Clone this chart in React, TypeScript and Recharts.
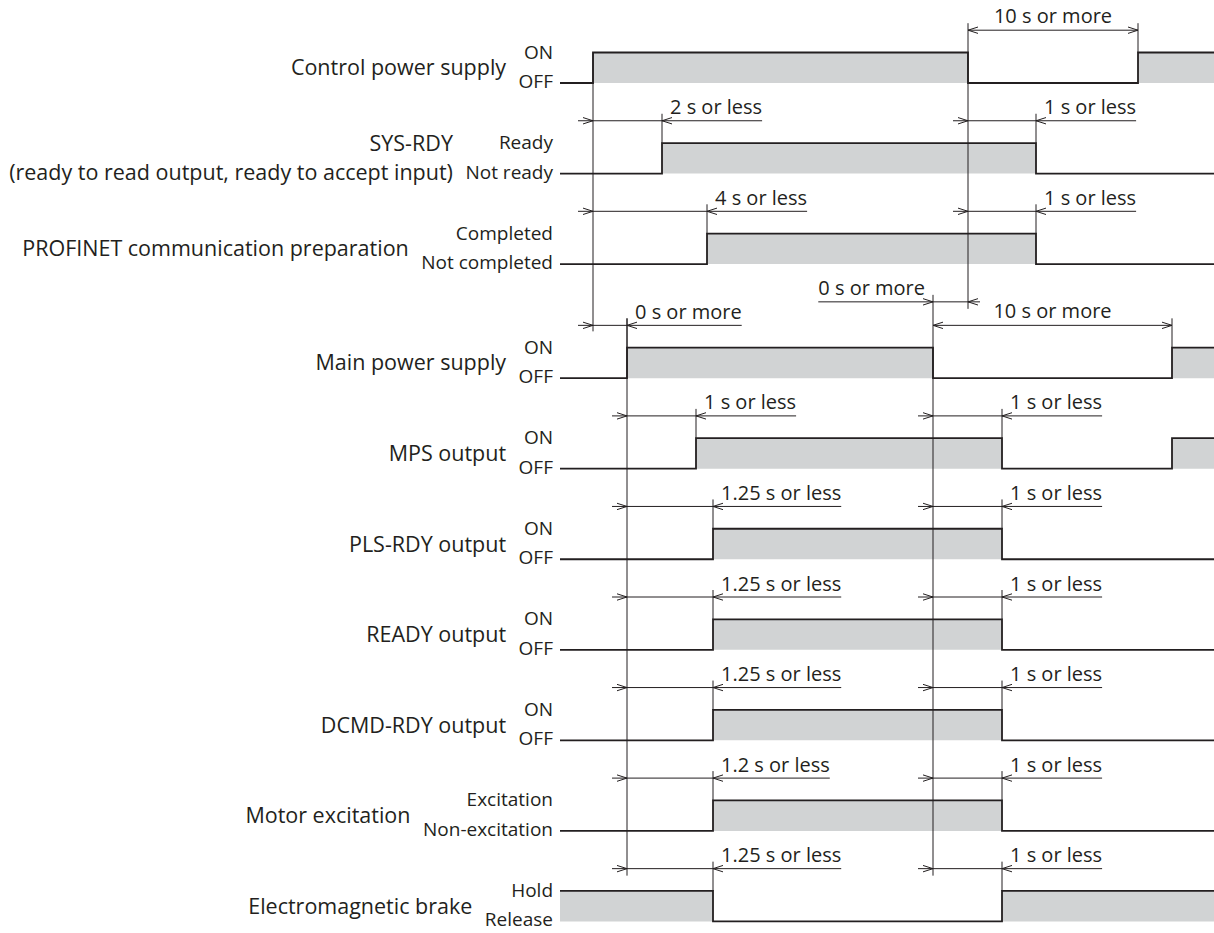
// Timing chart: power-on / power-off sequence of the driver signals.
// Grey blocks are the "high" state of each signal, arrows mark the delays.
import { Area, ComposedChart, Line, ReferenceLine, Scatter, XAxis, YAxis } from "recharts";

const W = 1214;
const H = 933;
const LEFT = 560; // signal lines start here (t = 0)
const END = W - LEFT;

const INK = "#231f20";
const GREY = "#d1d3d4";
const FONT = "'Open Sans', sans-serif";

const rowNames = [
  ["Control power supply"],
  ["SYS-RDY", "(ready to read output, ready to accept input)"],
  ["PROFINET communication preparation"],
  ["Main power supply"],
  ["MPS output"],
  ["PLS-RDY output"],
  ["READY output"],
  ["DCMD-RDY output"],
  ["Motor excitation"],
  ["Electromagnetic brake"],
];

const levelNames = [
  ["ON", "OFF"],
  ["Ready", "Not ready"],
  ["Completed", "Not completed"],
  ["ON", "OFF"],
  ["ON", "OFF"],
  ["ON", "OFF"],
  ["ON", "OFF"],
  ["ON", "OFF"],
  ["Excitation", "Non-excitation"],
  ["Hold", "Release"],
];

const startsOn = [false, false, false, false, false, false, false, false, false, true];

// times at which each signal toggles
const edges = [
  [33, 408, 578],
  [102, 476],
  [147, 476],
  [67, 373, 612],
  [136, 442, 612],
  [153, 442],
  [153, 442],
  [153, 442],
  [153, 442],
  [153, 442],
];

// delay from a reference edge to the signal's edge, text written after it
const delays = [
  { row: 1, from: 33, to: 102, text: "2 s or less" },
  { row: 1, from: 408, to: 476, text: "1 s or less" },
  { row: 2, from: 33, to: 147, text: "4 s or less" },
  { row: 2, from: 408, to: 476, text: "1 s or less" },
  { row: 3, from: 33, to: 67, text: "0 s or more" },
  { row: 4, from: 67, to: 136, text: "1 s or less" },
  { row: 4, from: 373, to: 442, text: "1 s or less" },
  { row: 5, from: 67, to: 153, text: "1.25 s or less" },
  { row: 5, from: 373, to: 442, text: "1 s or less" },
  { row: 6, from: 67, to: 153, text: "1.25 s or less" },
  { row: 6, from: 373, to: 442, text: "1 s or less" },
  { row: 7, from: 67, to: 153, text: "1.25 s or less" },
  { row: 7, from: 373, to: 442, text: "1 s or less" },
  { row: 8, from: 67, to: 153, text: "1.2 s or less" },
  { row: 8, from: 373, to: 442, text: "1 s or less" },
  { row: 9, from: 67, to: 153, text: "1.25 s or less" },
  { row: 9, from: 373, to: 442, text: "1 s or less" },
];

// off-time spans, text centred over them
const spans = [
  { row: 0, from: 408, to: 578, text: "10 s or more" },
  { row: 3, from: 373, to: 612, text: "10 s or more" },
];

// main power must go off before control power
const leads = [{ row: 3, from: 373, to: 408, text: "0 s or more" }];

// layout
const rowLow = (i: number) => 83 + i * 90.55 + (i >= 3 ? 23.5 : 0);
const rowHigh = (i: number) => rowLow(i) - 30.5;
const dimY = (i: number) => rowHigh(i) - 22.3;
const leadY = (i: number) => dimY(i) - 23.5;

let ctx: CanvasRenderingContext2D | null = null;
function textWidth(s: string, size: number) {
  if (!ctx) ctx = document.createElement("canvas").getContext("2d");
  ctx!.font = `${size}px "Open Sans"`;
  return ctx!.measureText(s).width;
}

const times = Array.from(new Set([0, END, ...edges.flat()])).sort((a, b) => a - b);
const wave = times.map(t => {
  const p: Record<string, any> = { t };
  edges.forEach((e, i) => {
    const on = (e.filter(x => x <= t).length % 2 === 1) !== startsOn[i];
    p[`w${i}`] = on ? rowHigh(i) : rowLow(i);
    p[`f${i}`] = [rowLow(i), on ? rowHigh(i) : rowLow(i)];
  });
  return p;
});

type Seg = [number, number, number, number];
type Lbl = { t: number; y: number; text: string; anchor: string; size: number };

function buildMarks() {
  const segs: Seg[] = [];
  const arrows: { t: number; y: number; dir: number }[] = [];
  const labels: Lbl[] = [];

  delays.forEach(d => {
    const y = dimY(d.row);
    const tx = d.to + 8;
    segs.push([d.from - 15, y, tx + textWidth(d.text, 20), y]);
    segs.push([d.to, y - 7, d.to, rowHigh(d.row)]);
    arrows.push({ t: d.from, y, dir: 1 }, { t: d.to, y, dir: -1 });
    labels.push({ t: tx, y: y - 6.5, text: d.text, anchor: "start", size: 20 });
  });

  spans.forEach(s => {
    const y = dimY(s.row);
    segs.push([s.from, y, s.to, y]);
    segs.push([s.to, y - 7, s.to, rowHigh(s.row)]);
    arrows.push({ t: s.from, y, dir: -1 }, { t: s.to, y, dir: 1 });
    labels.push({ t: (s.from + s.to) / 2, y: y - 7, text: s.text, anchor: "middle", size: 20 });
  });

  leads.forEach(l => {
    const y = leadY(l.row);
    const w = textWidth(l.text, 20);
    segs.push([l.from - 8 - w, y, l.to + 12, y]);
    arrows.push({ t: l.from, y, dir: 1 }, { t: l.to, y, dir: -1 });
    labels.push({ t: l.from - 8, y: y - 7, text: l.text, anchor: "end", size: 20 });
  });

  // long reference lines through the rows
  const cpOn = edges[0][0], cpOff = edges[0][1];
  const mpOn = edges[3][0], mpOff = edges[3][1];
  segs.push([cpOn, rowHigh(0), cpOn, dimY(3) + 6]);
  segs.push([cpOff, dimY(0) - 7, cpOff, leadY(3) + 7]);
  segs.push([mpOn, dimY(3) - 7, mpOn, dimY(9) + 7]);
  segs.push([mpOff, leadY(3) - 7, mpOff, dimY(9) + 7]);

  rowNames.forEach((names, i) => {
    const lw = Math.max(...levelNames[i].map(s => textWidth(s, 19)));
    const rx = -7 - lw - 12.5;
    if (names.length === 2) {
      labels.push({ t: rx, y: rowHigh(i) + 8, text: names[0], anchor: "end", size: 21.5 });
      labels.push({ t: rx, y: rowLow(i) + 6, text: names[1], anchor: "end", size: 21.5 });
    } else {
      labels.push({ t: rx, y: (rowHigh(i) + rowLow(i)) / 2 + 7.5, text: names[0], anchor: "end", size: 21.5 });
    }
    labels.push({ t: -7, y: rowHigh(i) + 6, text: levelNames[i][0], anchor: "end", size: 19 });
    labels.push({ t: -7, y: rowLow(i) + 5, text: levelNames[i][1], anchor: "end", size: 19 });
  });

  return { segs, arrows, labels };
}

const Arrow = (p: any) => {
  const { cx, cy } = p;
  const d = p.payload.dir;
  return (
    <path
      d={`M${cx - d * 10},${cy - 3.2}L${cx},${cy}L${cx - d * 10},${cy + 3.2}`}
      fill="none"
      stroke={INK}
      strokeWidth={1}
    />
  );
};

const Label = (p: any) => (
  <text
    x={p.cx}
    y={p.cy}
    textAnchor={p.payload.anchor}
    fontSize={p.payload.size}
    fontFamily={FONT}
    fill={INK}
  >
    {p.payload.text}
  </text>
);

export default function App() {
  const { segs, arrows, labels } = buildMarks();
  return (
    <div style={{ position: "absolute", left: 0, top: 0, background: "#fff" }}>
      <ComposedChart width={W} height={H} data={wave} margin={{ top: 0, right: 0, bottom: 0, left: 0 }}>
        <XAxis dataKey="t" type="number" domain={[-LEFT, END]} allowDataOverflow hide />
        <YAxis dataKey="y" type="number" domain={[0, H]} reversed allowDataOverflow hide />
        {rowNames.map((_, i) => (
          <Area
            key={`f${i}`}
            dataKey={`f${i}`}
            type="stepAfter"
            stroke="none"
            fill={GREY}
            fillOpacity={1}
            isAnimationActive={false}
          />
        ))}
        {segs.map((s, k) => (
          <ReferenceLine
            key={`s${k}`}
            segment={[{ x: s[0], y: s[1] }, { x: s[2], y: s[3] }]}
            stroke={INK}
            strokeWidth={1}
            ifOverflow="visible"
          />
        ))}
        {rowNames.map((_, i) => (
          <Line
            key={`w${i}`}
            dataKey={`w${i}`}
            type="stepAfter"
            stroke={INK}
            strokeWidth={1.8}
            dot={false}
            isAnimationActive={false}
          />
        ))}
        <Scatter data={arrows} shape={Arrow} isAnimationActive={false} />
        <Scatter data={labels} shape={Label} isAnimationActive={false} />
      </ComposedChart>
    </div>
  );
}
